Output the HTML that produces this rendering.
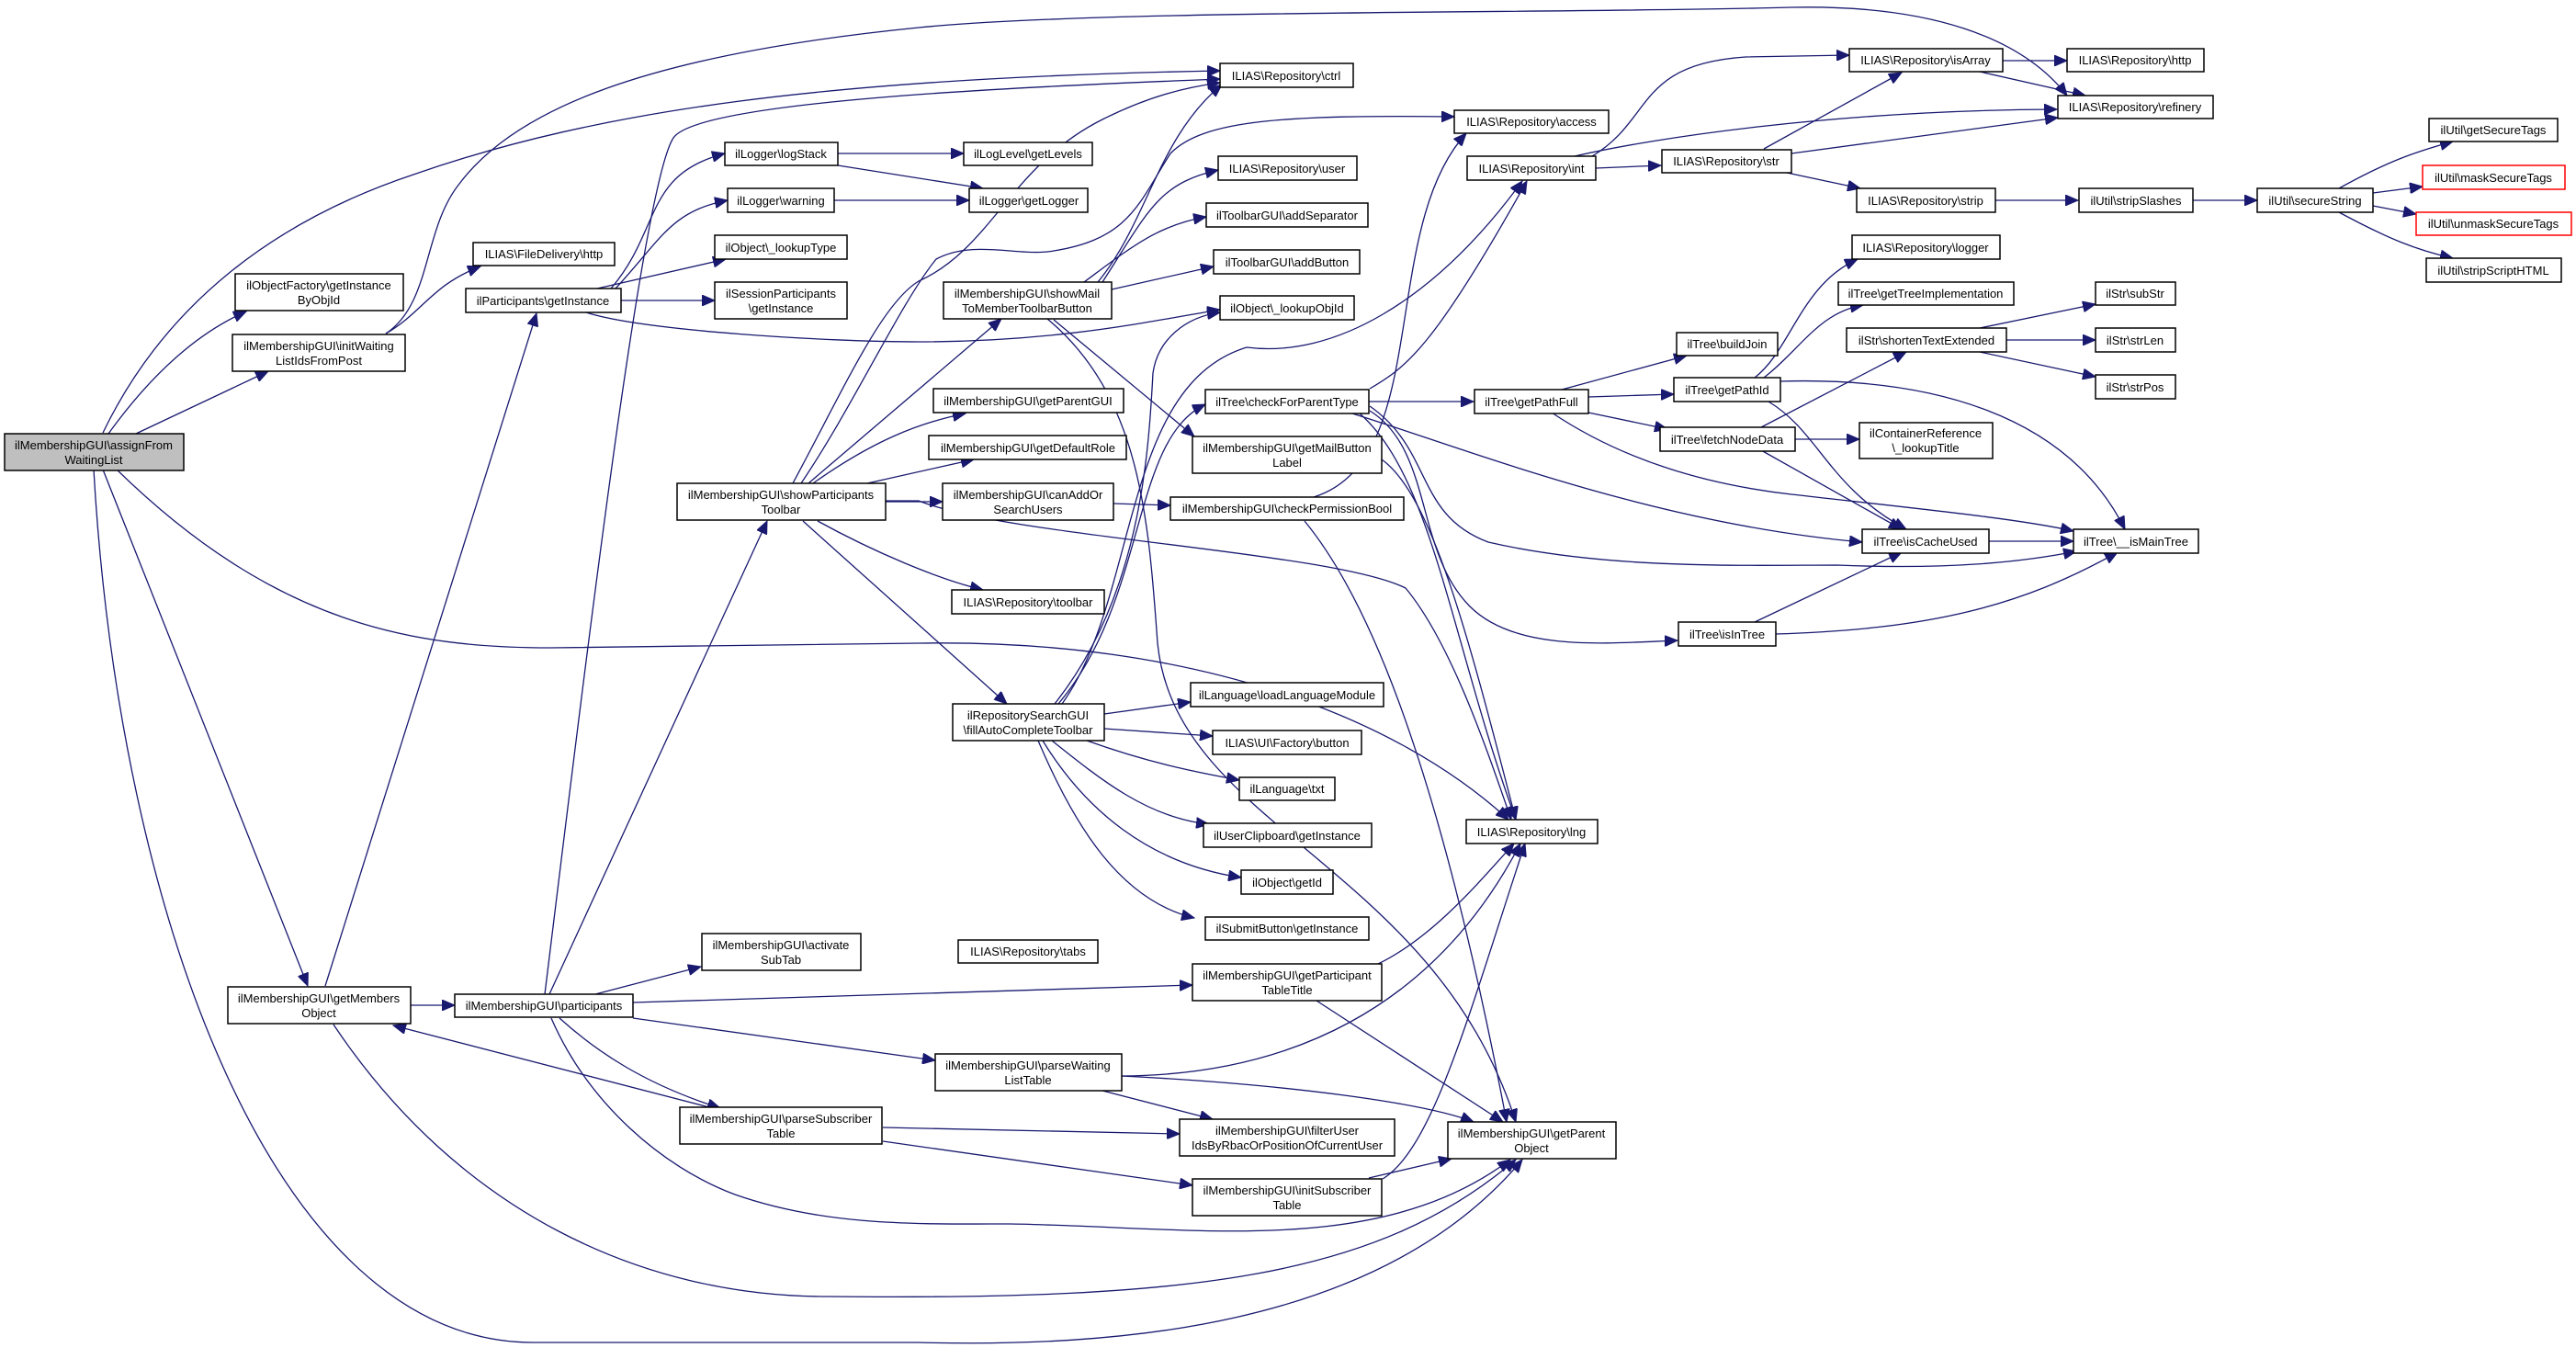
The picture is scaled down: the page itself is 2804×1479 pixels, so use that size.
<!DOCTYPE html>
<html><head><meta charset="utf-8"><style>
html,body{margin:0;padding:0;background:#fff;}
svg{display:block;}
text{font-family:"Liberation Sans",sans-serif;font-size:13px;fill:#000;text-anchor:middle;}
.e{fill:none;stroke:#191970;stroke-width:1.3;marker-end:url(#ah);}
.n{fill:#fff;stroke:#000;stroke-width:1.5;}
.g{fill:#bfbfbf;stroke:#000;stroke-width:1.5;}
.r{fill:#fff;stroke:#ff0000;stroke-width:1.5;}
</style></head><body>
<svg width="2804" height="1479" viewBox="0 0 2804 1479" xmlns="http://www.w3.org/2000/svg">
<defs><marker id="ah" markerUnits="userSpaceOnUse" markerWidth="16" markerHeight="12" refX="14" refY="6" orient="auto"><path d="M0,0 L14,6 L0,12 Z" fill="#191970" stroke="#191970"/></marker></defs>

<!-- edges -->
<path class="e" d="M112,471 C180,330 300,240 450,190 C650,120 900,85 1328,77"/>
<path class="e" d="M118,472 C170,400 220,360 268,339"/>
<path class="e" d="M148,472 L292,404"/>
<path class="e" d="M112,511 L335,1073"/>
<path class="e" d="M127,511 C300,680 450,705 600,705 L1000,700 C1300,695 1520,780 1642,892"/>
<path class="e" d="M102,511 C130,1000 300,1461 580,1461 L1000,1461 C1200,1466 1500,1450 1657,1262"/>
<path class="e" d="M447,1094 L495,1094"/>
<path class="e" d="M354,1073 L584,341"/>
<path class="e" d="M363,1115 C500,1320 700,1411 900,1411 C1300,1415 1500,1390 1650,1262"/>
<path class="e" d="M772,1205 L428,1116"/>
<path class="e" d="M593,1082 C640,700 700,200 733,150 C760,110 1100,95 1328,86"/>
<path class="e" d="M598,1082 L835,567"/>
<path class="e" d="M648,1082 L763,1052"/>
<path class="e" d="M689,1091 L1298,1072"/>
<path class="e" d="M689,1108 L1018,1154"/>
<path class="e" d="M609,1108 C650,1145 702,1180 784,1206"/>
<path class="e" d="M600,1108 C640,1200 720,1270 800,1300 C900,1335 1000,1332 1100,1332 C1300,1335 1500,1370 1644,1262"/>
<path class="e" d="M961,1227 L1284,1234"/>
<path class="e" d="M961,1242 L1298,1290"/>
<path class="e" d="M1200,1187 L1320,1218"/>
<path class="e" d="M1221,1171 C1400,1180 1550,1200 1604,1221"/>
<path class="e" d="M1221,1171 C1400,1170 1560,1100 1655,918"/>
<path class="e" d="M1490,1282 L1580,1261"/>
<path class="e" d="M1505,1283 C1560,1250 1600,1100 1660,918"/>
<path class="e" d="M1500,1049 C1560,1020 1610,960 1648,918"/>
<path class="e" d="M1433,1089 L1636,1221"/>
<path class="e" d="M863,526 C920,420 960,330 1000,306 C1080,270 1100,180 1200,130 C1250,105 1290,95 1328,90"/>
<path class="e" d="M872,526 C930,440 980,330 1019,282 C1060,260 1110,280 1147,273 C1230,260 1240,220 1274,167 C1310,130 1400,125 1583,127"/>
<path class="e" d="M880,526 L1090,347"/>
<path class="e" d="M885,526 C950,480 1000,460 1051,450"/>
<path class="e" d="M944,526 L1060,500"/>
<path class="e" d="M964,546 L1026,546"/>
<path class="e" d="M890,567 C950,600 1020,630 1070,642"/>
<path class="e" d="M874,567 L1096,766"/>
<path class="e" d="M964,545 L1000,545 C1100,585 1450,600 1530,640 C1580,700 1620,820 1645,892"/>
<path class="e" d="M1420,567 C1480,640 1560,800 1640,1221"/>
<path class="e" d="M1430,541 C1560,500 1500,250 1596,145"/>
<path class="e" d="M1504,500 C1560,540 1600,700 1650,892"/>
<path class="e" d="M1147,348 L1300,475"/>
<path class="e" d="M1140,347 C1240,430 1250,560 1260,700 C1280,900 1560,940 1650,1221"/>
<path class="e" d="M1195,307 C1250,240 1260,150 1330,92"/>
<path class="e" d="M1200,307 C1250,230 1260,200 1326,185"/>
<path class="e" d="M1180,307 C1230,270 1260,245 1313,236"/>
<path class="e" d="M1210,315 L1321,290"/>
<path class="e" d="M665,314 C720,250 700,190 789,167"/>
<path class="e" d="M670,314 C720,260 730,230 792,218"/>
<path class="e" d="M650,314 L790,282"/>
<path class="e" d="M676,327 L778,327"/>
<path class="e" d="M638,340 C700,360 900,372 1000,372 C1150,372 1250,350 1328,337"/>
<path class="e" d="M420,363 C460,340 470,310 523,290"/>
<path class="e" d="M420,363 C470,330 460,250 500,200 C560,120 700,60 1000,30 C1200,10 1700,15 1950,8 C2100,5 2200,40 2250,104"/>
<path class="e" d="M912,167 L1049,167"/>
<path class="e" d="M912,180 L1070,205"/>
<path class="e" d="M908,218 L1055,218"/>
<path class="e" d="M1202,777 L1296,764"/>
<path class="e" d="M1202,793 L1320,801"/>
<path class="e" d="M1183,806 C1250,830 1300,840 1349,849"/>
<path class="e" d="M1145,806 C1200,850 1250,890 1316,897"/>
<path class="e" d="M1135,806 C1180,880 1250,940 1351,955"/>
<path class="e" d="M1130,806 C1170,900 1220,980 1300,999"/>
<path class="e" d="M1148,766 C1240,650 1250,500 1255,406 C1260,370 1290,345 1328,340"/>
<path class="e" d="M1152,766 C1250,650 1230,480 1312,440"/>
<path class="e" d="M1156,766 C1240,650 1220,420 1357,378 C1450,390 1560,330 1657,197"/>
<path class="e" d="M1491,423 C1530,400 1560,380 1662,197"/>
<path class="e" d="M1490,437 L1604,437"/>
<path class="e" d="M1472,450 C1600,490 1800,570 2027,590"/>
<path class="e" d="M1491,442 C1560,490 1540,560 1620,590 C1750,620 1900,615 2000,615 C2120,620 2200,612 2260,600"/>
<path class="e" d="M1491,447 C1560,490 1540,600 1600,660 C1650,710 1750,700 1826,697"/>
<path class="e" d="M1480,450 C1560,520 1580,700 1650,892"/>
<path class="e" d="M1700,424 L1836,387"/>
<path class="e" d="M1729,432 L1822,429"/>
<path class="e" d="M1729,449 L1815,467"/>
<path class="e" d="M1689,449 C1780,510 1880,530 1950,538 C2100,555 2200,565 2257,578"/>
<path class="e" d="M1910,411 C1950,380 1960,310 2022,282"/>
<path class="e" d="M1920,411 C1960,380 1980,340 2028,332"/>
<path class="e" d="M1925,437 C1980,470 1990,530 2075,576"/>
<path class="e" d="M1937,415 C2100,410 2250,450 2313,576"/>
<path class="e" d="M1917,465 L2075,383"/>
<path class="e" d="M1953,478 L2024,478"/>
<path class="e" d="M1917,490 L2070,576"/>
<path class="e" d="M2155,357 L2281,331"/>
<path class="e" d="M2183,370 L2281,370"/>
<path class="e" d="M2155,383 L2281,410"/>
<path class="e" d="M2165,589 L2257,589"/>
<path class="e" d="M1910,677 L2070,601"/>
<path class="e" d="M1932,690 C2100,685 2200,660 2305,601"/>
<path class="e" d="M1737,183 L1808,180"/>
<path class="e" d="M1733,170 C1800,130 1780,70 1900,62 L2013,60"/>
<path class="e" d="M1714,170 C1800,150 2000,120 2239,119"/>
<path class="e" d="M1920,162 L2070,79"/>
<path class="e" d="M1950,167 L2240,128"/>
<path class="e" d="M1945,188 L2025,205"/>
<path class="e" d="M2179,66 L2250,66"/>
<path class="e" d="M2155,78 L2270,104"/>
<path class="e" d="M2172,218 L2262,218"/>
<path class="e" d="M2386,218 L2457,218"/>
<path class="e" d="M2546,205 C2600,175 2630,165 2670,154"/>
<path class="e" d="M2583,210 L2637,203"/>
<path class="e" d="M2583,224 L2630,233"/>
<path class="e" d="M2546,231 C2600,260 2630,272 2670,281"/>
<path class="e" d="M1212,548 L1274,550"/>

<!-- nodes -->
<rect class="g" x="5" y="472" width="195" height="40"/><text x="102" y="489">ilMembershipGUI\assignFrom</text><text x="102" y="505">WaitingList</text>
<rect class="n" x="256" y="298" width="183" height="40"/><text x="347" y="315">ilObjectFactory\getInstance</text><text x="347" y="331">ByObjId</text>
<rect class="n" x="253" y="364" width="188" height="40"/><text x="347" y="381">ilMembershipGUI\initWaiting</text><text x="347" y="397">ListIdsFromPost</text>
<rect class="n" x="515" y="264" width="154" height="25"/><text x="592" y="281">ILIAS\FileDelivery\http</text>
<rect class="n" x="507" y="314" width="169" height="26"/><text x="591" y="332">ilParticipants\getInstance</text>
<rect class="n" x="789" y="155" width="123" height="25"/><text x="850" y="172">ilLogger\logStack</text>
<rect class="n" x="792" y="205" width="116" height="26"/><text x="850" y="223">ilLogger\warning</text>
<rect class="n" x="778" y="256" width="144" height="26"/><text x="850" y="274">ilObject\_lookupType</text>
<rect class="n" x="778" y="307" width="144" height="40"/><text x="850" y="324">ilSessionParticipants</text><text x="850" y="340">\getInstance</text>
<rect class="n" x="737" y="526" width="227" height="40"/><text x="850" y="543">ilMembershipGUI\showParticipants</text><text x="850" y="559">Toolbar</text>
<rect class="n" x="1328" y="69" width="145" height="26"/><text x="1400" y="87">ILIAS\Repository\ctrl</text>
<rect class="n" x="1583" y="120" width="168" height="25"/><text x="1667" y="137">ILIAS\Repository\access</text>
<rect class="n" x="1049" y="155" width="140" height="25"/><text x="1119" y="172">ilLogLevel\getLevels</text>
<rect class="n" x="1055" y="205" width="129" height="26"/><text x="1120" y="223">ilLogger\getLogger</text>
<rect class="n" x="1326" y="170" width="151" height="26"/><text x="1401" y="188">ILIAS\Repository\user</text>
<rect class="n" x="1313" y="221" width="176" height="26"/><text x="1401" y="239">ilToolbarGUI\addSeparator</text>
<rect class="n" x="1321" y="272" width="159" height="26"/><text x="1401" y="290">ilToolbarGUI\addButton</text>
<rect class="n" x="1328" y="322" width="146" height="26"/><text x="1401" y="340">ilObject\_lookupObjId</text>
<rect class="n" x="1027" y="307" width="183" height="40"/><text x="1118" y="324">ilMembershipGUI\showMail</text><text x="1118" y="340">ToMemberToolbarButton</text>
<rect class="n" x="1016" y="423" width="207" height="26"/><text x="1119" y="441">ilMembershipGUI\getParentGUI</text>
<rect class="n" x="1011" y="474" width="215" height="26"/><text x="1119" y="492">ilMembershipGUI\getDefaultRole</text>
<rect class="n" x="1026" y="526" width="186" height="40"/><text x="1119" y="543">ilMembershipGUI\canAddOr</text><text x="1119" y="559">SearchUsers</text>
<rect class="n" x="1036" y="642" width="166" height="26"/><text x="1119" y="660">ILIAS\Repository\toolbar</text>
<rect class="n" x="1312" y="424" width="178" height="26"/><text x="1401" y="442">ilTree\checkForParentType</text>
<rect class="n" x="1298" y="475" width="206" height="40"/><text x="1401" y="492">ilMembershipGUI\getMailButton</text><text x="1401" y="508">Label</text>
<rect class="n" x="1274" y="541" width="254" height="25"/><text x="1401" y="558">ilMembershipGUI\checkPermissionBool</text>
<rect class="n" x="1597" y="170" width="140" height="26"/><text x="1667" y="188">ILIAS\Repository\int</text>
<rect class="n" x="1809" y="163" width="141" height="25"/><text x="1879" y="180">ILIAS\Repository\str</text>
<rect class="n" x="1825" y="362" width="110" height="25"/><text x="1880" y="379">ilTree\buildJoin</text>
<rect class="n" x="1605" y="424" width="124" height="26"/><text x="1667" y="442">ilTree\getPathFull</text>
<rect class="n" x="1822" y="411" width="116" height="26"/><text x="1880" y="429">ilTree\getPathId</text>
<rect class="n" x="1807" y="465" width="147" height="26"/><text x="1880" y="483">ilTree\fetchNodeData</text>
<rect class="n" x="1827" y="677" width="106" height="26"/><text x="1880" y="695">ilTree\isInTree</text>
<rect class="n" x="2013" y="53" width="167" height="25"/><text x="2096" y="70">ILIAS\Repository\isArray</text>
<rect class="n" x="2250" y="53" width="149" height="25"/><text x="2324" y="70">ILIAS\Repository\http</text>
<rect class="n" x="2240" y="104" width="169" height="25"/><text x="2324" y="121">ILIAS\Repository\refinery</text>
<rect class="n" x="2644" y="129" width="140" height="25"/><text x="2714" y="146">ilUtil\getSecureTags</text>
<rect class="r" x="2637" y="180" width="155" height="26"/><text x="2714" y="198">ilUtil\maskSecureTags</text>
<rect class="r" x="2630" y="231" width="169" height="25"/><text x="2714" y="248">ilUtil\unmaskSecureTags</text>
<rect class="n" x="2641" y="281" width="147" height="26"/><text x="2714" y="299">ilUtil\stripScriptHTML</text>
<rect class="n" x="2021" y="205" width="151" height="26"/><text x="2096" y="223">ILIAS\Repository\strip</text>
<rect class="n" x="2263" y="205" width="124" height="26"/><text x="2325" y="223">ilUtil\stripSlashes</text>
<rect class="n" x="2457" y="205" width="126" height="26"/><text x="2520" y="223">ilUtil\secureString</text>
<rect class="n" x="2016" y="256" width="161" height="26"/><text x="2096" y="274">ILIAS\Repository\logger</text>
<rect class="n" x="2001" y="307" width="191" height="25"/><text x="2096" y="324">ilTree\getTreeImplementation</text>
<rect class="n" x="2281" y="307" width="87" height="25"/><text x="2324" y="324">ilStr\subStr</text>
<rect class="n" x="2010" y="357" width="174" height="26"/><text x="2097" y="375">ilStr\shortenTextExtended</text>
<rect class="n" x="2281" y="357" width="87" height="26"/><text x="2324" y="375">ilStr\strLen</text>
<rect class="n" x="2281" y="408" width="87" height="26"/><text x="2324" y="426">ilStr\strPos</text>
<rect class="n" x="2024" y="460" width="145" height="39"/><text x="2096" y="476">ilContainerReference</text><text x="2096" y="492">\_lookupTitle</text>
<rect class="n" x="2027" y="576" width="138" height="26"/><text x="2096" y="594">ilTree\isCacheUsed</text>
<rect class="n" x="2257" y="576" width="136" height="26"/><text x="2325" y="594">ilTree\__isMainTree</text>
<rect class="n" x="248" y="1074" width="199" height="40"/><text x="347" y="1091">ilMembershipGUI\getMembers</text><text x="347" y="1107">Object</text>
<rect class="n" x="495" y="1082" width="194" height="25"/><text x="592" y="1099">ilMembershipGUI\participants</text>
<rect class="n" x="764" y="1016" width="173" height="40"/><text x="850" y="1033">ilMembershipGUI\activate</text><text x="850" y="1049">SubTab</text>
<rect class="n" x="740" y="1205" width="220" height="40"/><text x="850" y="1222">ilMembershipGUI\parseSubscriber</text><text x="850" y="1238">Table</text>
<rect class="n" x="1037" y="766" width="165" height="40"/><text x="1119" y="783">ilRepositorySearchGUI</text><text x="1119" y="799">\fillAutoCompleteToolbar</text>
<rect class="n" x="1296" y="743" width="210" height="26"/><text x="1401" y="761">ilLanguage\loadLanguageModule</text>
<rect class="n" x="1320" y="795" width="162" height="26"/><text x="1401" y="813">ILIAS\UI\Factory\button</text>
<rect class="n" x="1349" y="846" width="104" height="25"/><text x="1401" y="863">ilLanguage\txt</text>
<rect class="n" x="1310" y="896" width="183" height="26"/><text x="1401" y="914">ilUserClipboard\getInstance</text>
<rect class="n" x="1351" y="947" width="100" height="26"/><text x="1401" y="965">ilObject\getId</text>
<rect class="n" x="1312" y="998" width="178" height="25"/><text x="1401" y="1015">ilSubmitButton\getInstance</text>
<rect class="n" x="1043" y="1023" width="152" height="25"/><text x="1119" y="1040">ILIAS\Repository\tabs</text>
<rect class="n" x="1298" y="1049" width="206" height="40"/><text x="1401" y="1066">ilMembershipGUI\getParticipant</text><text x="1401" y="1082">TableTitle</text>
<rect class="n" x="1596" y="892" width="143" height="26"/><text x="1667" y="910">ILIAS\Repository\lng</text>
<rect class="n" x="1018" y="1147" width="203" height="40"/><text x="1119" y="1164">ilMembershipGUI\parseWaiting</text><text x="1119" y="1180">ListTable</text>
<rect class="n" x="1284" y="1218" width="234" height="40"/><text x="1401" y="1235">ilMembershipGUI\filterUser</text><text x="1401" y="1251">IdsByRbacOrPositionOfCurrentUser</text>
<rect class="n" x="1298" y="1283" width="206" height="40"/><text x="1401" y="1300">ilMembershipGUI\initSubscriber</text><text x="1401" y="1316">Table</text>
<rect class="n" x="1576" y="1221" width="183" height="40"/><text x="1667" y="1238">ilMembershipGUI\getParent</text><text x="1667" y="1254">Object</text>
</svg>
</body></html>
